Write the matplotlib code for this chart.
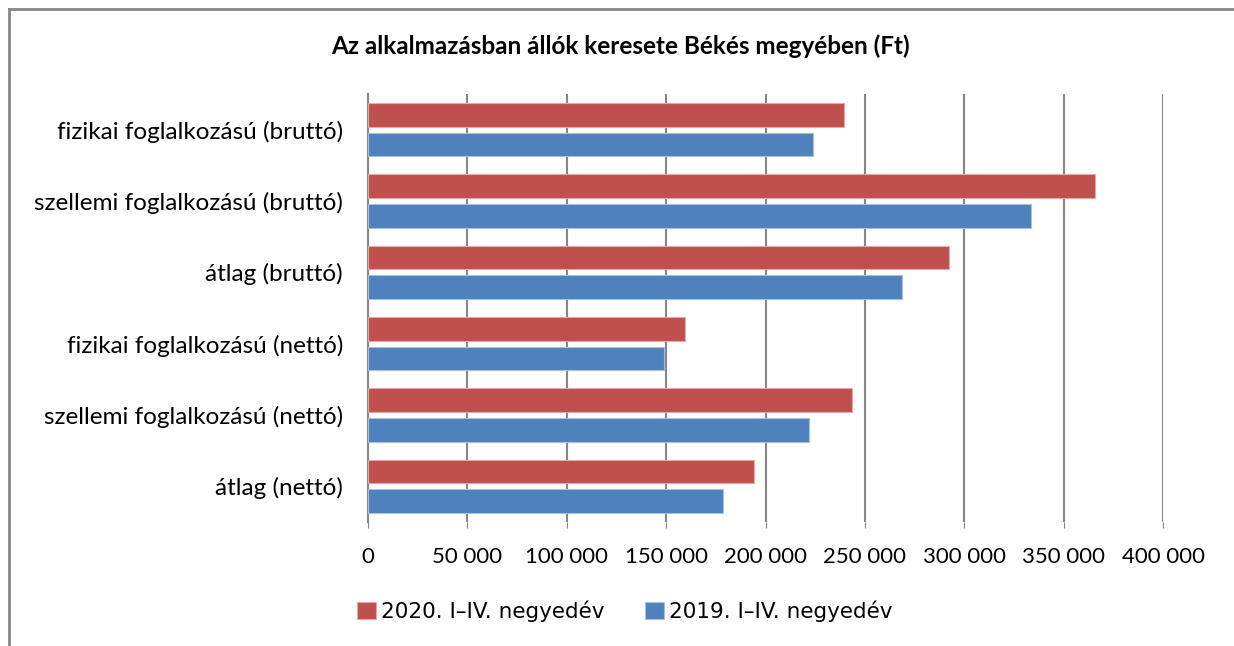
import matplotlib.pyplot as plt
import numpy as np
from matplotlib.ticker import FuncFormatter

categories = ['fizikai foglalkozású (bruttó)', 'szellemi foglalkozású (bruttó)', 'átlag (bruttó)',
              'fizikai foglalkozású (nettó)', 'szellemi foglalkozású (nettó)', 'átlag (nettó)']
values_2020 = [239600, 365600, 292400, 159500, 243300, 194400]
values_2019 = [223900, 333600, 268800, 148800, 221900, 178600]
series_names = ['2020. I–IV. negyedév', '2019. I–IV. negyedév']
red = '#C0504D'
blue = '#4F81BD'

fig = plt.figure(figsize=(12.34, 6.46), dpi=100)
ax = fig.add_axes([368 / 1234, 1 - 522 / 646, (1163 - 368) / 1234, (522 - 94) / 646])

y = np.arange(len(categories))
h = 0.33
ax.barh(y - 0.207, values_2020, height=h, color=red, edgecolor='#E3A9A7', linewidth=0.8, label=series_names[0], zorder=3)
ax.barh(y + 0.207, values_2019, height=h, color=blue, edgecolor='#A7C0DE', linewidth=0.8, label=series_names[1], zorder=3)

ax.set_xlim(0, 400000)
ax.set_ylim(len(categories) - 0.5, -0.5)
ax.set_xticks(np.arange(0, 400001, 50000))
ax.xaxis.set_major_formatter(FuncFormatter(lambda v, p: f'{int(v):,}'.replace(',', ' ')))
ax.set_yticks(y)
ax.set_yticklabels(categories, fontfamily='Lato', fontsize=17.5)
for lab in ax.get_xticklabels():
    lab.set_fontfamily('Lato')
    lab.set_fontsize(16)
ax.tick_params(axis='y', length=0, pad=18)
ax.tick_params(axis='x', length=4, color='#868686', pad=14)
ax.grid(axis='x', color='#868686', linewidth=1.5, zorder=0)
for s in ['top', 'right', 'bottom']:
    ax.spines[s].set_visible(False)
ax.spines['left'].set_color('#868686')
ax.spines['left'].set_linewidth(1.5)

fig.text(620 / 1234, 1 - 46 / 646, 'Az alkalmazásban állók keresete Békés megyében (Ft)',
         ha='center', va='center', fontfamily='Lato', fontweight='bold', fontsize=17.5)

fig.legend(loc='center', bbox_to_anchor=(625 / 1234, 1 - 611 / 646), ncol=2, frameon=False,
           prop={'family': 'DejaVu Sans', 'size': 15.5}, handlelength=0.85, handleheight=0.85,
           handletextpad=0.25, columnspacing=1.9)

# chart border (left and top only visible)
fig.add_artist(plt.Line2D([8.5 / 1234, 8.5 / 1234], [0, 1 - 8.5 / 646], color='#868686', linewidth=2))
fig.add_artist(plt.Line2D([8.5 / 1234, 1], [1 - 8.5 / 646, 1 - 8.5 / 646], color='#868686', linewidth=2))

fig.savefig('out.png', dpi=100)
